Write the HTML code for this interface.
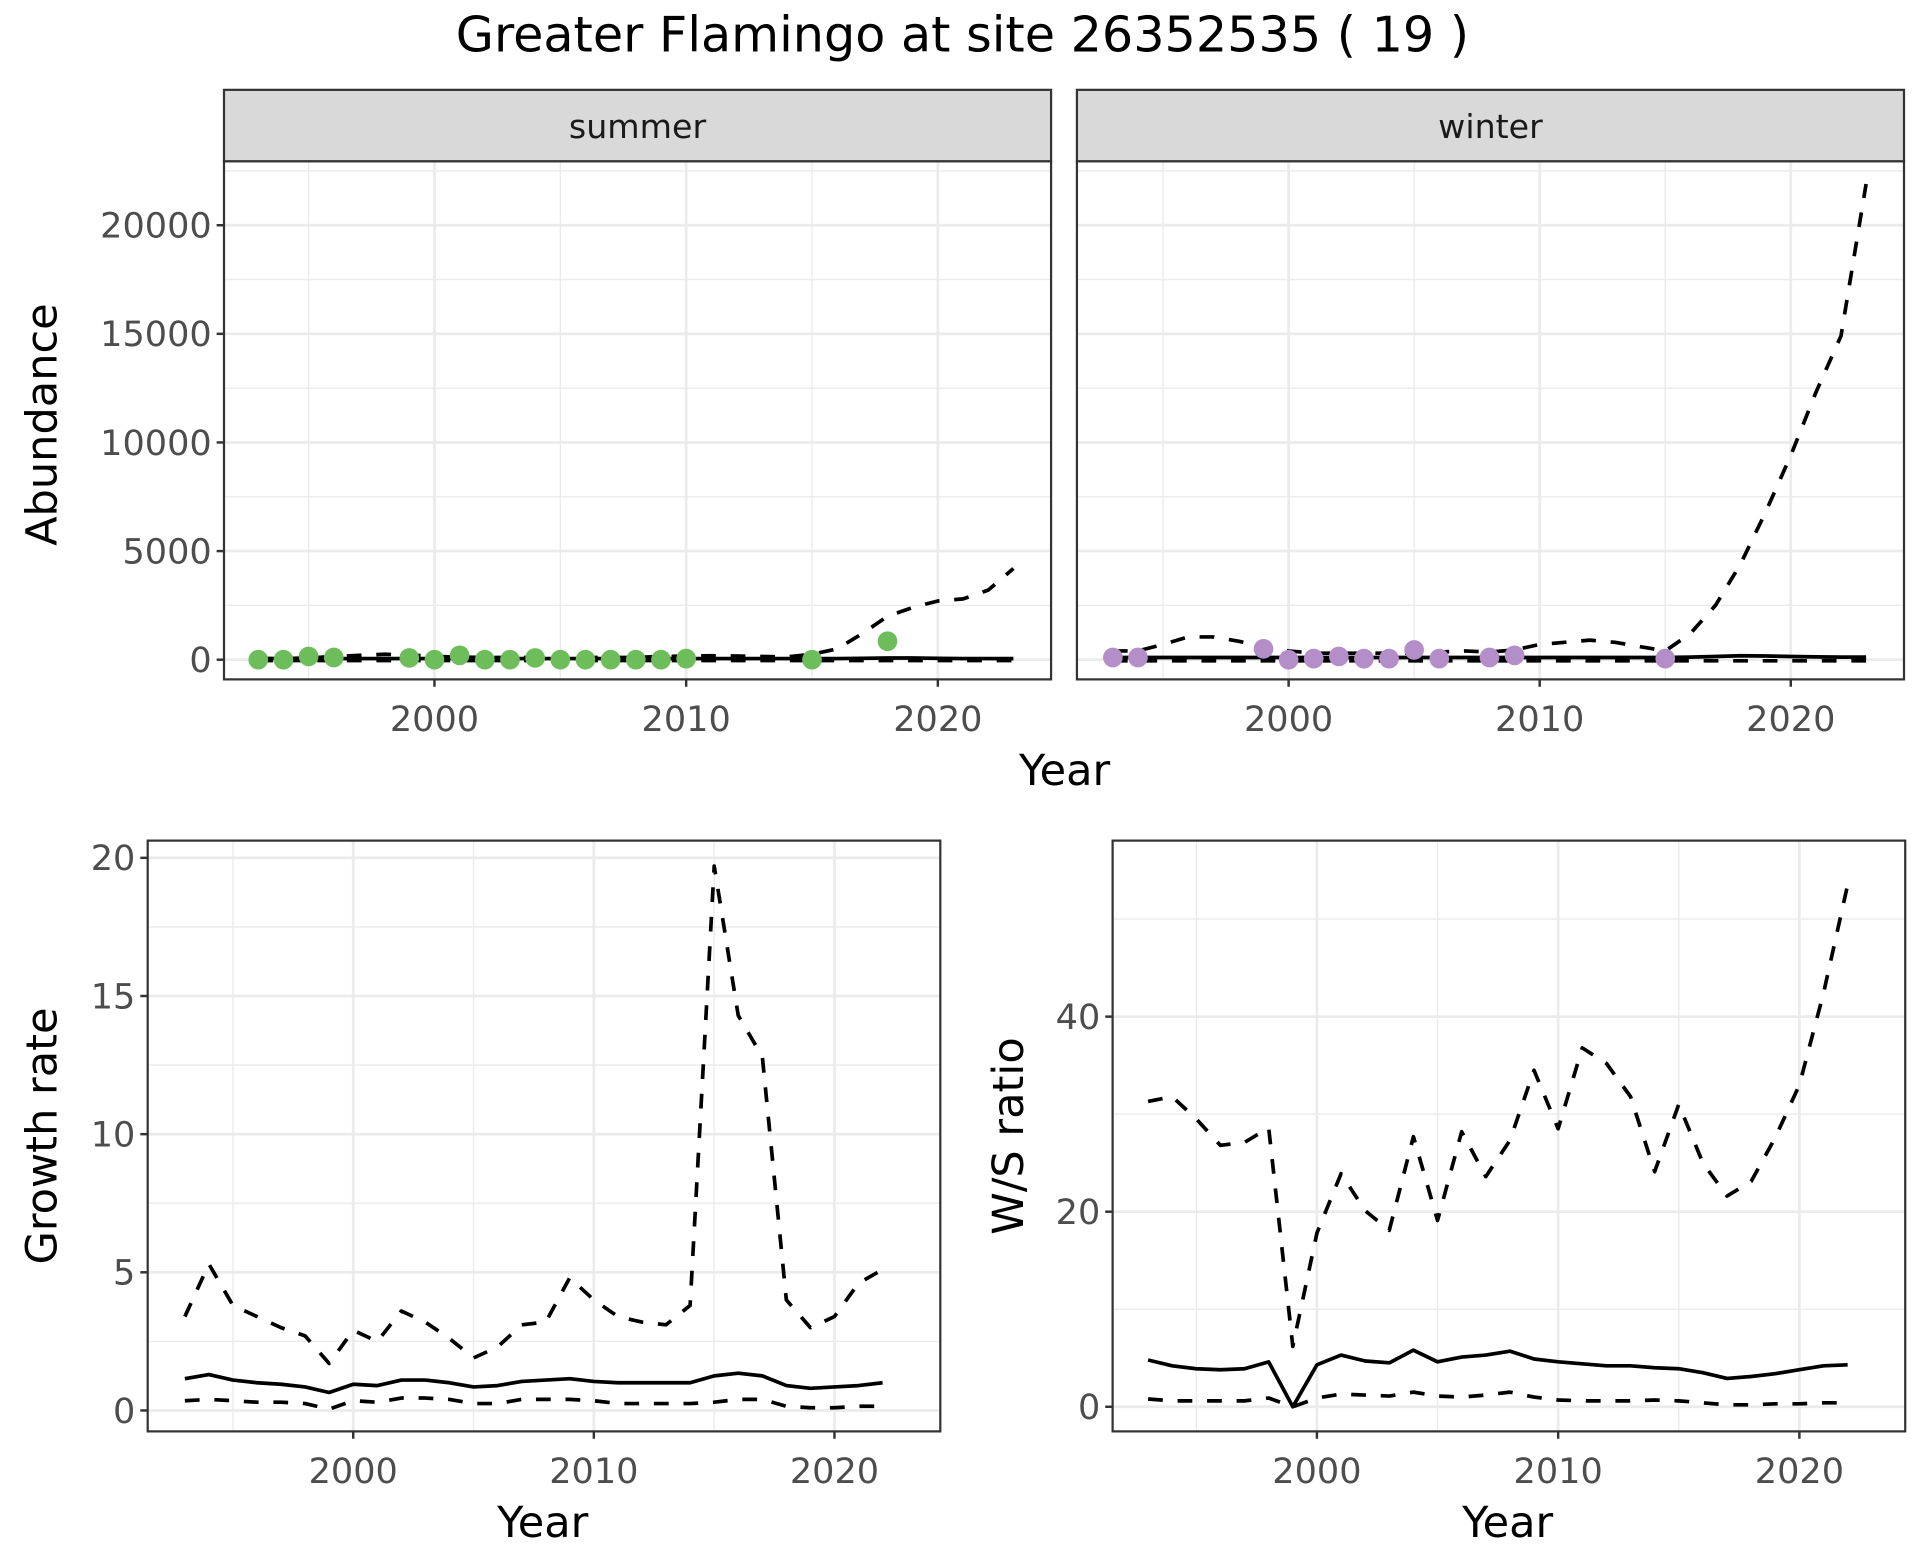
<!DOCTYPE html>
<html><head><meta charset="utf-8"><style>
html,body{margin:0;padding:0;background:#fff;}
svg{display:block;font-family:"DejaVu Sans","Liberation Sans",sans-serif;}
</style></head><body>
<svg id="chart" width="1920" height="1560" viewBox="0 0 1560 1267.5" xmlns="http://www.w3.org/2000/svg">
<rect width="1560" height="1267.5" fill="#fff"/>
<text x="782" y="42" font-size="40" text-anchor="middle" fill="#000">Greater Flamingo at site 26352535 ( 19 )</text>
</svg>
<script>
const years = [];
for (let y = 1993; y <= 2023; y++) years.push(y);
const summerPtYears = [1993,1994,1995,1996,1999,2000,2001,2002,2003,2004,2005,2006,2007,2008,2009,2010,2015,2018];
const summerPtVals = [0,0,150,100,80,0,200,0,0,80,0,0,0,0,0,50,0,850];
const summerMid = [50,50,50,50,50,50,50,50,50,50,50,50,50,50,50,50,50,50,50,50,50,50,50,50,60,80,80,60,50,50,50];
const summerHi = [50,50,80,150,200,250,220,150,120,100,100,100,100,100,100,100,150,170,180,170,150,130,250,500,1200,2000,2400,2700,2800,3200,4200];
const summerLo = [-40,-40,-40,-40,-40,-40,-40,-40,-40,-40,-40,-40,-40,-40,-40,-40,-40,-40,-40,-40,-40,-40,-40,-40,-40,-40,-40,-40,-40,-40,-40];
const winterPtYears = [1993,1994,1999,2000,2001,2002,2003,2004,2005,2006,2008,2009,2015];
const winterPtVals = [100,100,500,0,50,150,50,50,450,50,100,200,50];
const winterMid = [100,100,100,100,100,100,100,100,100,100,100,100,100,100,100,100,100,100,100,100,100,100,100,120,150,180,170,150,130,120,120];
const winterHi = [400,400,700,1050,1050,850,600,400,300,300,300,300,300,350,400,350,450,700,800,900,800,600,400,1200,2500,4400,6800,9400,12300,14900,21900];
const winterLo = [-50,-50,-50,-50,-50,-50,-50,-50,-50,-50,-50,-50,-50,-50,-50,-50,-50,-50,-50,-50,-50,-50,-50,-50,-50,-50,-50,-50,-50,-50,-50];
const abTicks = [0,5000,10000,15000,20000];
const yearTicks = [2000,2010,2020];
const rateYears = years.slice(0,30);
const growthMid = [1.15,1.3,1.1,1.0,0.95,0.85,0.65,0.95,0.9,1.1,1.1,1.0,0.85,0.9,1.05,1.1,1.15,1.05,1.0,1.0,1.0,1.0,1.25,1.35,1.25,0.9,0.8,0.85,0.9,1.0];
const growthHi = [3.4,5.3,3.8,3.4,3.0,2.7,1.7,2.9,2.5,3.6,3.2,2.6,1.9,2.3,3.1,3.2,4.8,4.0,3.4,3.2,3.1,3.8,19.7,14.3,12.8,4.0,3.0,3.4,4.6,5.1];
const growthLo = [0.35,0.4,0.35,0.3,0.3,0.25,0.05,0.35,0.3,0.45,0.45,0.4,0.25,0.25,0.4,0.4,0.4,0.35,0.25,0.25,0.25,0.25,0.3,0.4,0.4,0.15,0.1,0.1,0.15,0.15];
const growthTicks = [0,5,10,15,20];
const wsMid = [4.8,4.2,3.9,3.8,3.9,4.6,0,4.3,5.3,4.7,4.5,5.8,4.6,5.1,5.3,5.7,4.9,4.6,4.4,4.2,4.2,4.0,3.9,3.5,2.9,3.1,3.4,3.8,4.2,4.3];
const wsHi = [31.3,31.8,29.5,26.8,27.1,28.6,6.2,17.8,23.9,20.1,18.1,27.7,19.1,28.2,23.6,27.3,34.5,28.5,36.8,35.2,31.8,24.1,31.0,25.0,21.6,23.1,27.6,33.0,42.4,53.5];
const wsLo = [0.8,0.6,0.6,0.6,0.6,0.9,0.0,0.9,1.3,1.2,1.1,1.5,1.1,1.0,1.2,1.5,1.0,0.7,0.6,0.6,0.6,0.7,0.6,0.4,0.2,0.2,0.3,0.3,0.4,0.4];
const wsTicks = [0,20,40];

const NS = "http://www.w3.org/2000/svg";
const svg = document.getElementById('chart');
function mk(tag, attrs, parent) {
  const e = document.createElementNS(NS, tag);
  for (const k in attrs) e.setAttribute(k, attrs[k]);
  (parent || svg).appendChild(e);
  return e;
}
function lin(d0, d1, r0, r1) { return v => r0 + (v - d0) * (r1 - r0) / (d1 - d0); }

function panel(o) {
  const g = mk('g', {});
  
  
  const x = lin(2000, 2020, o.x2000, o.x2020);
  const y = lin(o.t0, o.t1, o.y0, o.y1);
  mk('rect', {x:o.L, y:o.T, width:o.R-o.L, height:o.B-o.T, fill:'#fff'}, g);
  const step = o.ticks[1]-o.ticks[0];
  for (let v = o.ticks[0]-step/2; v <= o.ticks[o.ticks.length-1]+step*1.5; v += step) {
    const yy = y(v); if (yy < o.T || yy > o.B) continue;
    const l = mk('line', {x1:o.L, x2:o.R, y1:yy, y2:yy, stroke:'#ebebeb', 'stroke-width':1.1}, g);
     
  }
  for (let yr = 1995; yr <= 2025; yr += 10) {
    const xx = x(yr); if (xx < o.L || xx > o.R) continue;
    const l = mk('line', {x1:xx, x2:xx, y1:o.T, y2:o.B, stroke:'#ebebeb', 'stroke-width':1.1}, g);
     
  }
  o.ticks.forEach(v => {
    const yy = y(v);
    const l = mk('line', {x1:o.L, x2:o.R, y1:yy, y2:yy, stroke:'#ebebeb', 'stroke-width':2.2}, g);
     
    if (o.yLabels) {
      mk('line', {x1:o.L-6, x2:o.L, y1:yy, y2:yy, stroke:'#333', 'stroke-width':2}, g);
      const t = mk('text', {x:o.L-10, y:yy+10, 'font-size':28.5, fill:'#4d4d4d', 'text-anchor':'end'}, g);
      t.textContent = v;
       
    }
  });
  yearTicks.forEach(v => {
    const xx = x(v);
    mk('line', {x1:xx, x2:xx, y1:o.T, y2:o.B, stroke:'#ebebeb', 'stroke-width':2.2}, g);
    mk('line', {x1:xx, x2:xx, y1:o.B, y2:o.B+6, stroke:'#333', 'stroke-width':2}, g);
    const t = mk('text', {x:xx, y:o.B+42, 'font-size':28.5, fill:'#4d4d4d', 'text-anchor':'middle'}, g);
    t.textContent = v;
     
  });
  const clipId = 'c' + o.name;
  const cp = mk('clipPath', {id:clipId}, g);
  mk('rect', {x:o.L, y:o.T, width:o.R-o.L, height:o.B-o.T}, cp);
  const lg = mk('g', {'clip-path':'url(#'+clipId+')'}, g);
  o.series.forEach(s => {
    const d = s.vals.map((v,i) => (i?'L':'M') + x(s.yrs[i]).toFixed(1) + ',' + y(v).toFixed(1)).join(' ');
    const p = mk('path', {d:d, fill:'none', stroke:'#000', 'stroke-width':3, 'stroke-linejoin':'round'}, lg);
    if (s.dash) p.setAttribute('stroke-dasharray', '12 12');
    
    
  });
  if (o.pts) {
    o.pts.yrs.forEach((yr,i) => {
      const c = mk('circle', {cx:x(yr), cy:y(o.pts.vals[i]), r:8, fill:o.pts.color}, lg);
      
      
    });
  }
  mk('rect', {x:o.L, y:o.T, width:o.R-o.L, height:o.B-o.T, fill:'none', stroke:'#333', 'stroke-width':1.8}, g);
  if (o.strip) {
    const sr = mk('rect', {x:o.L, y:o.T-58, width:o.R-o.L, height:58, fill:'#d9d9d9', stroke:'#333', 'stroke-width':1.8}, g);
     
    const st = mk('text', {x:(o.L+o.R)/2, y:o.T-19, 'font-size':27, fill:'#1a1a1a', 'text-anchor':'middle'}, g);
    st.textContent = o.strip;
     
  }
}
function ser(name, yrs, vals, dash) { return {name, yrs, vals, dash}; }

panel({name:'summer-panel', L:182, R:854, T:131, B:552, x2000:353, x2020:762, t0:0, t1:20000, y0:536, y1:183, ticks:abTicks, yLabels:true, strip:'summer',
  series:[ser('summer-upper',years,summerHi,true), ser('summer-lower',years,summerLo,true), ser('summer-trend',years,summerMid,false)],
  pts:{yrs:summerPtYears, vals:summerPtVals, color:'#6dbe5a'}});
panel({name:'winter-panel', L:875, R:1547, T:131, B:552, x2000:1047, x2020:1455, t0:0, t1:20000, y0:536, y1:183, ticks:abTicks, yLabels:false, strip:'winter',
  series:[ser('winter-upper',years,winterHi,true), ser('winter-lower',years,winterLo,true), ser('winter-trend',years,winterMid,false)],
  pts:{yrs:winterPtYears, vals:winterPtVals, color:'#b48ec8'}});
panel({name:'growth-panel', L:120, R:764, T:683, B:1163, x2000:287, x2020:678, t0:0, t1:20, y0:1146, y1:697, ticks:growthTicks, yLabels:true,
  series:[ser('growth-upper',rateYears,growthHi,true), ser('growth-lower',rateYears,growthLo,true), ser('growth-mid',rateYears,growthMid,false)]});
panel({name:'ws-panel', L:904, R:1548, T:683, B:1163, x2000:1070, x2020:1462, t0:0, t1:40, y0:1143, y1:826, ticks:wsTicks, yLabels:true,
  series:[ser('ws-upper',rateYears,wsHi,true), ser('ws-lower',rateYears,wsLo,true), ser('ws-mid',rateYears,wsMid,false)]});

function label(txt, x, y, rot, name) {
  const t = mk('text', {x:x, y:y, 'font-size':35, fill:'#000', 'text-anchor':'middle'});
  if (rot) t.setAttribute('transform', 'rotate(-90 '+x+' '+y+')');
  t.textContent = txt;
  
  
}
label('Year', 865, 638, false, 'top-x-axis-title');
label('Abundance', 46, 345, true, 'abundance-axis-title');
label('Growth rate', 46, 923, true, 'growth-axis-title');
label('Year', 441, 1249, false, 'growth-x-axis-title');
label('W/S ratio', 831, 923, true, 'ws-axis-title');
label('Year', 1225, 1249, false, 'ws-x-axis-title');
</script>
</body></html>
